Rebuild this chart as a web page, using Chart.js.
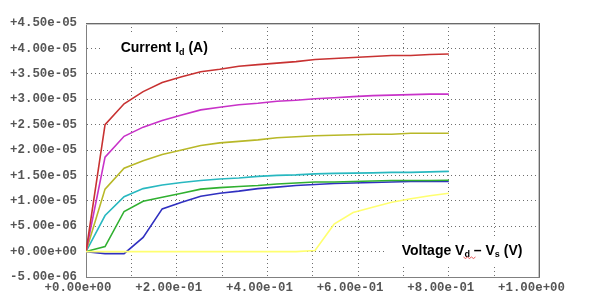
<!DOCTYPE html>
<html>
<head>
<meta charset="utf-8">
<script src="https://cdn.jsdelivr.net/npm/chart.js@4/dist/chart.umd.min.js"></script>
<style>
  html, body { margin: 0; padding: 0; background: #fff; }
  #wrap { width: 589px; height: 307px; position: relative; }
</style>
</head>
<body>
<div id="wrap"><canvas id="ivChart"></canvas></div>
<script>
// drain voltage (V)
const vds = [0, 0.042, 0.084, 0.126, 0.168, 0.211, 0.253, 0.295, 0.337, 0.379,
             0.421, 0.463, 0.505, 0.547, 0.589, 0.632, 0.674, 0.716, 0.758, 0.8];

// drain current, in microamps
const idRed     = [0, 25.0, 29.1, 31.5, 33.3, 34.4, 35.4, 35.9, 36.5, 36.8,
                   37.1, 37.4, 37.8, 38.0, 38.2, 38.4, 38.6, 38.6, 38.8, 38.9];
const idMagenta = [0, 18.6, 22.7, 24.5, 25.8, 26.9, 27.9, 28.4, 28.9, 29.2,
                   29.6, 29.8, 30.1, 30.3, 30.5, 30.7, 30.8, 30.9, 31.0, 31.0];
const idOlive   = [0, 12.3, 16.4, 17.9, 19.1, 20.0, 20.9, 21.4, 21.7, 22.0,
                   22.4, 22.6, 22.8, 22.9, 23.0, 23.1, 23.1, 23.3, 23.3, 23.3];
const idCyan    = [0, 7.1, 10.8, 12.4, 13.1, 13.6, 14.0, 14.3, 14.5, 14.8,
                   15.0, 15.1, 15.3, 15.4, 15.45, 15.5, 15.6, 15.6, 15.7, 15.8];
const idGreen   = [0, 1.0, 7.9, 9.9, 10.7, 11.5, 12.3, 12.6, 12.8, 13.0,
                   13.3, 13.5, 13.7, 13.7, 13.8, 13.9, 14.0, 14.0, 14.0, 14.05];
const idBlue    = [0, -0.4, -0.4, 2.8, 8.4, 9.7, 10.9, 11.5, 11.9, 12.4,
                   12.7, 13.0, 13.2, 13.4, 13.5, 13.6, 13.7, 13.8, 13.8, 13.8];
const idYellow  = [0, 0, 0, 0, 0, 0, 0, 0, 0, 0,
                   0, 0, 0.2, 5.4, 7.7, 8.75, 9.7, 10.4, 11.0, 11.5];

const xTicks = [0, 0.1, 0.2, 0.3, 0.4, 0.5, 0.6, 0.7, 0.8, 0.9, 1.0];

// yellow first so it sits on top of the others at 0
const series = [
    { data: idYellow,  color: '#ffff70' },
    { data: idRed,     color: '#c83232' },
    { data: idMagenta, color: '#c832c8' },
    { data: idOlive,   color: '#b8b828' },
    { data: idCyan,    color: '#28b8c0' },
    { data: idGreen,   color: '#30b030' },
    { data: idBlue,    color: '#3030c0' }
];

function sciLabel(v) {
    if (Math.abs(v) < 1e-12) v = 0;
    let s = Math.abs(v).toExponential(2);
    let parts = s.split('e');
    let exp = parseInt(parts[1]);
    let expStr = (exp < 0 ? '-' : '+') + String(Math.abs(exp)).padStart(2, '0');
    return (v < 0 ? '-' : '+') + parts[0] + 'e' + expStr;
}

function drawRich(ctx, parts, x, y) {
    parts.forEach(p => {
        ctx.font = p.sub ? 'bold 9px "Liberation Sans", Arial, sans-serif'
                         : 'bold 14px "Liberation Sans", Arial, sans-serif';
        ctx.fillText(p.t, x, y + (p.sub ? 2.5 : 0));
        x += ctx.measureText(p.t).width;
    });
    return x;
}

const labelsPlugin = {
    id: 'labels',
    beforeDatasetsDraw(chart) {
        const ctx = chart.ctx;
        ctx.save();
        ctx.fillStyle = '#fff';
        ctx.fillRect(103, 34, 127, 30);
        ctx.fillRect(386, 238, 152, 28);
        ctx.fillStyle = '#000';
        ctx.textBaseline = 'alphabetic';
        drawRich(ctx, [{t: 'Current I'}, {t: 'd', sub: true}, {t: ' (A)'}], 120.7, 52.3);
        let vx = drawRich(ctx, [{t: 'Voltage V'}], 401.7, 254.5);
        let dEnd = drawRich(ctx, [{t: 'd', sub: true}], vx, 254.5);
        drawRich(ctx, [{t: ' \u2013 V'}, {t: 's', sub: true}, {t: ' (V)'}], dEnd, 254.5);
        // spell-check squiggle under the subscript
        ctx.strokeStyle = '#e03030';
        ctx.lineWidth = 0.8;
        ctx.beginPath();
        for (let i = 0; i <= 6; i++) {
            let px = vx - 1 + i * 2;
            let py = 257.5 + (i % 2 ? 1 : -0.5);
            i === 0 ? ctx.moveTo(px, py) : ctx.lineTo(px, py);
        }
        ctx.stroke();
        ctx.restore();
    },
    afterDraw(chart) {
        const a = chart.chartArea;
        const ctx = chart.ctx;
        ctx.save();
        ctx.lineWidth = 1;
        ctx.strokeStyle = '#c8c8c8';
        ctx.beginPath();
        ctx.moveTo(a.left, 24.5);
        ctx.lineTo(a.right - 1, 24.5);
        ctx.lineTo(a.right - 1, a.bottom);
        ctx.stroke();
        ctx.strokeStyle = '#6a6a6a';
        ctx.beginPath();
        ctx.moveTo(a.left, 23.5);
        ctx.lineTo(a.right, 23.5);
        ctx.lineTo(a.right, a.bottom);
        ctx.stroke();
        ctx.restore();
    }
};

const tickFont = { family: '"Liberation Mono", "DejaVu Sans Mono", monospace', size: 12.4, weight: 'bold' };

new Chart(document.getElementById('ivChart'), {
    type: 'line',
    data: {
        datasets: series.map(s => ({
            data: vds.map((v, i) => ({ x: v, y: s.data[i] * 1e-6 })),
            borderColor: s.color,
            backgroundColor: s.color,
            borderWidth: 1.6,
            pointRadius: 0,
            tension: 0,
            fill: false
        }))
    },
    options: {
        responsive: true,
        maintainAspectRatio: false,
        animation: false,
        layout: { padding: { top: 23, right: 49.5, left: 0, bottom: 0 } },
        plugins: {
            legend: { display: false },
            tooltip: { enabled: false }
        },
        scales: {
            x: {
                type: 'linear',
                min: 0,
                max: 1,
                afterBuildTicks: scale => { scale.ticks = xTicks.map(v => ({ value: v })); },
                afterFit: scale => { scale.height = 30; },
                grid: { color: '#6e6e6e', drawTicks: false },
                border: { display: true, color: '#808080', width: 1, dash: [1, 3] },
                ticks: {
                    autoSkip: false,
                    maxRotation: 0,
                    padding: 3,
                    labelOffset: -8,
                    color: '#555',
                    font: tickFont,
                    callback: (v, i) => (i % 2 === 0 ? sciLabel(v) : '')
                }
            },
            y: {
                min: -5e-6,
                max: 4.5e-5,
                afterFit: scale => { scale.width = 86; },
                grid: { color: '#6e6e6e', drawTicks: false },
                border: { display: true, color: '#808080', width: 1, dash: [1, 3] },
                ticks: {
                    stepSize: 5e-6,
                    padding: 9,
                    color: '#555',
                    font: tickFont,
                    callback: v => sciLabel(v)
                }
            }
        }
    },
    plugins: [labelsPlugin]
});
</script>
</body>
</html>
